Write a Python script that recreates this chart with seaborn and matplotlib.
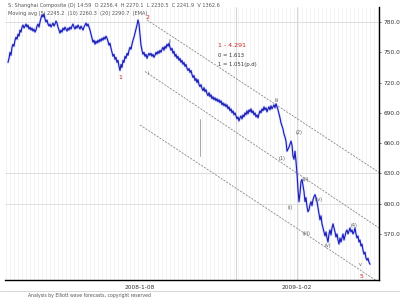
import numpy as np
import pandas as pd
import matplotlib
matplotlib.use("Agg")
import matplotlib.pyplot as plt
import seaborn as sns

# ---------------- data ----------------
start_day = 3
prices = [
    740, 744, 750, 747, 755, 758, 756, 762, 765, 763,
    768, 766, 772, 770, 775, 777, 774, 776, 778, 775,
    777, 773, 775, 772, 774, 771, 773, 770, 772, 776,
    778, 775, 780, 784, 787, 785, 788, 783, 780, 782,
    778, 776, 778, 775, 777, 779, 776, 778, 781, 779,
    775, 772, 769, 772, 770, 774, 772, 775, 773, 771,
    774, 772, 775, 773, 776, 778, 775, 773, 776, 774,
    777, 775, 773, 776, 774, 772, 775, 777, 779, 776,
    778, 775, 772, 768, 764, 760, 762, 758, 761, 759,
    762, 760, 763, 761, 764, 762, 765, 763, 766, 764,
    761, 757, 759, 754, 750, 746, 748, 743, 745, 740,
    742, 736, 732, 738, 735, 742, 740, 746, 744, 749,
    747, 752, 755, 753, 758, 762, 765, 769, 773, 777,
    782, 778, 767, 757, 752, 748, 750, 746, 748, 744,
    747, 749,
    747, 749, 746, 748, 745, 747, 750, 748, 751, 749,
    752, 750, 753, 755, 752, 756, 754, 758, 756, 759,
    755, 752, 754, 749, 751, 746, 748, 744, 746, 742,
    744, 740, 742, 738, 740, 736, 738, 734, 732, 734,
    730, 732, 728, 725, 727, 722, 724, 720, 723, 718,
    716, 718, 714, 712, 715, 711, 713, 709, 707, 710,
    706, 708, 704, 706, 703, 705, 702, 704, 701, 703,
    700, 702, 698, 700, 697, 699, 696, 698, 694, 696,
    692, 694, 690, 692, 688, 690, 687, 684, 686, 682,
    685, 687, 684, 688, 686, 690, 688, 692, 689, 693,
    691, 694, 690, 692, 688, 690, 686, 688, 685, 689,
    692, 690, 694, 692, 696, 693, 695, 691, 694, 696,
    693, 697, 694, 696, 698, 695, 699, 696, 693, 689,
    685, 680, 677, 674, 669, 666, 662, 652, 654, 656,
    659, 662, 658, 647, 644, 652, 642, 630, 614, 602,
    610, 622, 624, 618, 612, 602, 606, 597, 592, 594,
    599, 602, 598, 604, 607, 609, 606, 602, 596, 590,
    584, 588, 580, 576, 572, 568, 572, 566, 562, 570,
    574, 569, 576, 580, 576, 572, 567, 570, 564, 560,
    566, 562, 566, 570, 564, 568, 572, 574, 570, 573,
    576, 572, 574, 570, 572, 576, 570, 566, 568, 562,
    564, 558, 560, 554, 550, 552, 546, 544, 546, 542, 540,
]
days = np.arange(len(prices)) + start_day

# channel lines (start day, end day), (start value, end value)
channel_top = ([142, 374], [782, 631])
channel_mid = ([140, 374], [731, 576])
channel_low = ([135, 374], [678, 522])
marker_line = ([195, 195], [684, 647])

# wave labels
red_labels = [("1", 115, 725), ("2", 143, 784), ("5", 357, 528)]
gray_labels = [("i", 143, 729), ("ii", 165, 761), ("iii", 272, 702),
               ("(1)", 277, 645), ("(2)", 294, 671), ("(i)", 285, 596),
               ("(ii)", 301, 624), ("(iii)", 302, 570), ("(iv)", 314, 604),
               ("(v)", 323, 559), ("(4)", 349, 578), ("v", 355, 540)]

y_ticks = [780, 750, 720, 690, 660, 630, 600, 570]
x_tick_pos = [135, 292]
x_tick_labels = ["2008-1-08", "2009-1-02"]

info_lines = ["1 - 4.291", "0 = 1.613", "1 = 1.051(p.d)"]
header_1 = "S: Shanghai Composite (D) 14:59  O 2256.4  H 2270.1  L 2230.5  C 2241.9  V 1362.6"
header_2 = "Moving avg (5) 2245.2  (10) 2260.3  (20) 2290.7  (EMA)"
footer = "Analysis by Elliott wave forecasts, copyright reserved"

# ---------------- plot ----------------
sns.set_theme(style="white")
plt.rcParams['font.family'] = ['DejaVu Sans']

fig = plt.figure(figsize=(4, 3), dpi=100)
ax = fig.add_axes([0.0125, 0.0667, 0.935, 0.91])

df = pd.DataFrame({"day": days, "price": prices})

# faint vertical grid
for d in range(1, 375, 4):
    ax.axvline(d, color="#ececec", lw=0.4, zorder=0)
for d in [231, 292]:
    ax.axvline(d, color="#cfcfcf", lw=0.6, zorder=0)
for v in [780, 630, 600]:
    ax.axhline(v, color="#d9d9d9", lw=0.6, zorder=0)

for xs, ys in [channel_top, channel_mid, channel_low]:
    ax.plot(xs, ys, color="#8a8a8a", lw=0.6, ls=(0, (2.5, 1.5)), zorder=1)
ax.plot(*marker_line, color="#9a9a9a", lw=0.6, zorder=1)

sns.lineplot(data=df, x="day", y="price", ax=ax, color="#9fb2ff", lw=1.8,
             alpha=0.45, zorder=2)
sns.lineplot(data=df, x="day", y="price", ax=ax, color="#1a1ab4", lw=0.8,
             zorder=3)

for t, d, v in red_labels:
    ax.text(d, v, t, color="#cc2222", fontsize=4.5, ha="center", va="center")
for t, d, v in gray_labels:
    ax.text(d, v, t, color="#555555", fontsize=3.5, ha="center", va="center")

ax.text(213, 757, info_lines[0], color="#cc2222", fontsize=4.5, ha="left", va="center")
ax.text(213, 747, info_lines[1], color="#333333", fontsize=3.8, ha="left", va="center")
ax.text(213, 738, info_lines[2], color="#333333", fontsize=3.8, ha="left", va="center")

ax.set_xlim(0, 374)
ax.set_ylim(524.4, 794.9)
ax.set_xlabel("")
ax.set_ylabel("")
ax.yaxis.tick_right()
ax.set_yticks(y_ticks)
ax.set_yticklabels([f"{v:.1f}" for v in y_ticks])
ax.set_xticks(x_tick_pos)
ax.set_xticklabels(x_tick_labels)
ax.tick_params(axis="both", labelsize=4.2, colors="#333333", length=1.5, width=0.5, pad=2)

for s in ["top", "left"]:
    ax.spines[s].set_visible(False)
for s in ["right", "bottom"]:
    ax.spines[s].set_color("black")
    ax.spines[s].set_linewidth(1.0)

fig.text(8 / 400, 1 - 5 / 300, header_1, fontsize=3.6, color="#555555", va="center", ha="left")
fig.text(8 / 400, 1 - 13 / 300, header_2, fontsize=3.6, color="#555555", va="center", ha="left")
fig.add_artist(plt.Line2D([0, 1], [1 - 291 / 300, 1 - 291 / 300], color="#d0d0d0", lw=0.6))
fig.text(28 / 400, 1 - 296 / 300, footer, fontsize=3.3, color="#555555", va="center", ha="left")

fig.savefig("out.png", dpi=100)
